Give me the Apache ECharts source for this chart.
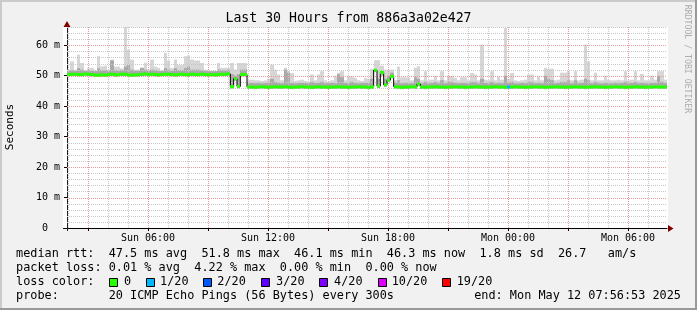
<!DOCTYPE html>
<html><head><meta charset="utf-8">
<script src="https://cdn.jsdelivr.net/npm/echarts@6/dist/echarts.min.js"></script>
<style>html,body{margin:0;padding:0;background:#f1f1f1}#c{width:697px;height:310px}</style>
</head><body><div id="c"></div>
<script>
// ---- data ----
const titleText = 'Last 30 Hours from 886a3a02e427';
const startMinutes = 116 + 53 / 60;   // Sun 01:56:53, minutes since Sun 00:00
const spanMinutes = 1800;             // 30 hours
const stepMinutes = 10;               // one sample per 10 minutes

const median = [
 50.4,50.5,50.5,50.4,50.4,50.6,50.5,50.4,50.2,50.2,
 50.3,50.2,50.4,50.5,50.3,50.4,50.5,50.5,50.3,50.2,
 50.3,50.3,50.5,50.6,50.4,50.5,50.4,50.3,50.4,50.5,
 50.5,50.4,50.3,50.4,50.5,50.4,50.3,50.5,50.4,50.4,
 50.5,50.4,50.3,50.4,50.3,50.4,50.5,50.5,50.6,
 46.4,49.0,46.5,50.4,50.4,
 46.3,46.3,46.2,46.3,46.4,46.3,46.2,46.3,46.4,46.3,
 46.3,46.4,46.3,46.2,46.3,46.3,46.4,46.3,46.3,46.2,
 46.3,46.4,46.3,46.3,46.2,46.3,46.3,46.4,46.3,46.3,
 46.2,46.3,46.3,46.4,46.3,46.3,46.2,46.3,
 51.8,46.6,51.1,47.0,48.5,49.8,46.4,
 46.3,46.2,46.3,46.3,46.4,46.3,47.3,46.3,46.2,46.3,
 46.3,46.4,46.3,46.3,46.2,46.3,46.3,46.4,46.3,46.3,
 46.2,46.3,46.3,46.4,46.3,46.3,46.2,46.3,46.3,46.4,
 46.3,46.3,46.2,46.3,46.3,46.4,46.3,46.3,46.2,46.3,
 46.3,46.4,46.3,46.3,46.2,46.3,46.3,46.4,46.3,46.3,
 46.2,46.3,46.3,46.4,46.3,46.3,46.2,46.3,46.3,46.4,
 46.3,46.3,46.2,46.3,46.3,46.4,46.3,46.3,46.2,46.3,
 46.3,46.4,46.3,46.3,46.2,46.3,46.3,46.4,46.3,46.3,
 46.3
];
const smokeMax = [
 52.0,54.7,52.0,56.9,54.2,51.8,52.5,52.5,51.8,56.4,
 53.1,53.3,52.0,55.3,53.0,53.0,52.4,66.2,58.6,55.3,
 52.0,52.0,52.6,54.3,52.0,55.3,53.0,52.6,51.8,57.5,
 55.0,52.5,55.3,53.5,53.5,56.4,56.6,55.3,55.0,55.0,
 54.2,52.0,51.8,51.5,51.5,54.2,52.6,52.6,52.6,54.2,
 52.0,54.2,54.2,54.2,48.7,48.7,48.5,48.5,48.3,48.5,
 49.0,53.6,52.0,50.4,48.5,52.6,51.5,50.9,48.3,48.5,
 48.7,48.3,48.0,50.4,48.5,50.4,51.5,48.5,48.0,48.5,
 50.0,51.0,51.5,48.5,49.8,49.8,49.3,48.5,48.3,49.3,
 49.0,52.3,55.1,55.1,53.3,52.0,52.0,52.0,48.5,53.0,
 49.5,49.5,49.3,48.5,52.6,53.1,48.5,51.5,48.5,48.7,
 50.0,48.5,51.5,48.5,50.0,50.0,49.3,48.5,49.5,49.5,
 48.5,50.9,50.4,48.5,60.2,48.7,48.5,51.5,48.5,49.8,
 48.7,65.7,49.0,50.9,48.5,48.3,48.5,48.7,50.4,50.4,
 48.5,49.8,48.5,52.6,52.3,52.3,48.5,48.7,51.0,51.0,
 51.5,48.5,51.5,48.5,48.7,60.2,54.7,48.5,51.0,48.5,
 48.5,50.0,48.7,48.5,48.5,48.7,48.5,51.5,48.5,48.7,
 51.5,48.5,50.6,48.5,48.5,50.0,48.7,51.5,51.5,48.7
];
const smokeDense = [
 51.6,51.8,51.6,52.5,52.0,51.6,51.8,51.6,51.5,52.4,
 51.8,51.8,51.6,55.0,51.8,51.6,51.8,53.0,53.5,52.0,
 51.6,51.6,52.6,52.0,51.6,52.0,51.8,51.6,51.5,52.5,
 52.0,51.6,52.5,51.8,51.8,52.5,53.0,52.0,52.0,52.0,
 51.8,51.6,51.5,51.5,51.5,52.0,51.8,51.8,52.0,
 50.5,50.0,50.5,52.0,52.0,
 47.6,47.6,47.5,47.6,47.5,47.6,47.6,49.0,48.0,47.6,
 47.5,52.0,51.0,47.6,47.5,47.6,47.6,47.6,47.5,48.0,
 47.6,47.6,48.0,47.5,47.6,47.6,47.5,50.5,49.5,47.6,
 47.5,48.0,47.6,47.5,47.6,47.6,47.6,49.0,
 52.0,49.0,50.0,49.0,50.0,51.0,47.6,
 48.5,47.5,47.6,47.5,47.5,49.5,49.0,47.5,48.0,47.5,
 47.6,48.0,47.5,48.5,47.5,48.0,48.0,47.6,47.5,47.6,
 47.6,47.5,48.0,48.0,47.5,49.0,47.6,47.5,48.0,47.5,
 47.6,47.5,50.0,47.6,48.0,47.5,47.5,47.6,47.5,48.0,
 48.0,47.5,47.6,47.5,50.0,49.0,48.5,47.5,47.6,48.0,
 48.0,48.5,47.5,48.5,47.5,47.6,49.0,48.5,47.5,48.0,
 47.5,47.5,47.6,47.5,47.5,47.6,47.5,47.6,48.0,47.5,
 47.6,48.0,47.5,47.6,47.5,47.5,47.6,47.6,50.0,48.0,
 47.6
];
const lossIdx = [132];      // sample index with packet loss
const lossLevel = [1];      // index into legend colours (1/20)

const tickHours = [6, 12, 18, 24, 30];
const tickLabels = ['Sun 06:00', 'Sun 12:00', 'Sun 18:00', 'Mon 00:00', 'Mon 06:00'];
const yTicks = [0, 10, 20, 30, 40, 50, 60];
const yMax = 66;

const legendColors = ['#26ff00', '#00b8ff', '#0059ff', '#5e00ff', '#7e00ff', '#dd00ff', '#ff0000'];
const legendNames = ['0', '1/20', '2/20', '3/20', '4/20', '10/20', '19/20'];
const statsLine1 = 'median rtt:  47.5 ms avg  51.8 ms max  46.1 ms min  46.3 ms now  1.8 ms sd  26.7   am/s';
const statsLine2 = 'packet loss: 0.01 % avg  4.22 % max  0.00 % min  0.00 % now';
const statsLine3 = 'loss color:';
const statsLine4 = 'probe:       20 ICMP Echo Pings (56 Bytes) every 300s';
const endText = 'end: Mon May 12 07:56:53 2025';

// ---- build ----
const MONO = 'DejaVu Sans Mono';
const LEGFONT = '11.85px "' + MONO + '"';
const lossMap = {};
lossIdx.forEach((k, i) => lossMap[k] = lossLevel[i]);
const smokeLight = median.map((m, i) => [i * stepMinutes, m - 0.6, smokeMax[i]]);
const smokeDark = median.map((m, i) => [i * stepMinutes, m - 0.6, smokeDense[i]]);
const medianSeg = median.map((m, i) => [i * stepMinutes, m, lossMap[i] || 0]);
const medianLine = median.map((m, i) => [i * stepMinutes, m]);
medianLine.push([spanMinutes, median[median.length - 1]]);

const hourOffsets = [];
for (let h = Math.ceil(startMinutes / 60); h * 60 - startMinutes <= spanMinutes; h++) {
  hourOffsets.push([h * 60 - startMinutes, 0, h % 3 === 0 ? 1 : 0]);
}
const majorTicks = hourOffsets.filter(d => d[2] === 1).map(d => d[0]);
const labelPos = tickHours.map(h => h * 60 - startMinutes);
const hLines = [];
for (let v = 2; v <= yMax; v += 2) hLines.push([0, v, v % 10 === 0 ? 1 : 0]);

function bandItem(color) {
  return function (params, api) {
    const t = api.value(0), lo = api.value(1), hi = api.value(2);
    const a = api.coord([t, hi]), b = api.coord([t + stepMinutes, lo]);
    const x0 = Math.round(a[0]), x1 = Math.round(b[0]);
    return { type: 'rect', shape: { x: x0, y: a[1], width: x1 - x0, height: b[1] - a[1] }, style: { fill: color } };
  };
}

const chart = echarts.init(document.getElementById('c'), null, { renderer: 'canvas' });
const gridL = 67, gridT = 27, gridW = 600, gridH = 201;
const graphics = [
  { type: 'rect', z: -10, shape: { x: 63, y: gridT, width: gridW + 5, height: gridH }, style: { fill: '#ffffff' } },
  { type: 'rect', shape: { x: 0, y: 0, width: 697, height: 2 }, style: { fill: '#cbcbcb' } },
  { type: 'rect', shape: { x: 0, y: 0, width: 2, height: 310 }, style: { fill: '#cbcbcb' } },
  { type: 'rect', shape: { x: 0, y: 308, width: 697, height: 2 }, style: { fill: '#999999' } },
  { type: 'rect', shape: { x: 695, y: 0, width: 2, height: 310 }, style: { fill: '#999999' } },
  { type: 'line', z: 10, shape: { x1: 63, y1: 228.5, x2: 67, y2: 228.5 }, style: { stroke: '#000', lineWidth: 1 } },
  { type: 'line', z: 10, shape: { x1: 67.5, y1: 228, x2: 67.5, y2: 231 }, style: { stroke: '#202020', lineWidth: 1 } },
  { type: 'text', x: 348.5, y: 19, style: { text: titleText, font: '13.2px "' + MONO + '"', fill: '#000', align: 'center', verticalAlign: 'middle' } },
  { type: 'text', x: 10, y: 127, rotation: Math.PI / 2, style: { text: 'Seconds', font: '11px "' + MONO + '"', fill: '#000', align: 'center', verticalAlign: 'middle' } },
  { type: 'text', x: 687, y: 59, rotation: -Math.PI / 2, style: { text: 'RRDTOOL / TOBI OETIKER', font: '8.2px "' + MONO + '"', fill: '#acacac', align: 'center', verticalAlign: 'middle' } },
  { type: 'polygon', z: 10, shape: { points: [[668, 225], [673.5, 228.5], [668, 232]] }, style: { fill: '#800000' } },
  { type: 'polygon', z: 10, shape: { points: [[63.5, 27], [67, 21], [70.5, 27]] }, style: { fill: '#800000' } },
  { type: 'text', x: 16, y: 254.3, style: { text: statsLine1, font: LEGFONT, fill: '#000', verticalAlign: 'middle' } },
  { type: 'text', x: 16, y: 268, style: { text: statsLine2, font: LEGFONT, fill: '#000', verticalAlign: 'middle' } },
  { type: 'text', x: 16, y: 282.3, style: { text: statsLine3, font: LEGFONT, fill: '#000', verticalAlign: 'middle' } },
  { type: 'text', x: 16, y: 296, style: { text: statsLine4, font: LEGFONT, fill: '#000', verticalAlign: 'middle' } },
  { type: 'text', x: 681, y: 296, style: { text: endText, font: LEGFONT, fill: '#000', align: 'right', verticalAlign: 'middle' } }
];
const boxX = [108.7, 145.7, 203.3, 261, 319.3, 377.7, 441.7];
const nameX = [124, 160, 217.3, 276, 334, 391.7, 456.7];
legendColors.forEach((c, i) => {
  graphics.push({ type: 'rect', shape: { x: Math.round(boxX[i]) + 0.5, y: 278.5, width: 8, height: 8 }, style: { fill: c, stroke: '#000', lineWidth: 1 } });
  graphics.push({ type: 'text', x: nameX[i], y: 282.3, style: { text: legendNames[i], font: LEGFONT, fill: '#000', verticalAlign: 'middle' } });
});

chart.setOption({
  animation: false,
  backgroundColor: '#f1f1f1',
  grid: { left: gridL, top: gridT, width: gridW, height: gridH, outerBoundsMode: 'none', containLabel: false },
  xAxis: {
    type: 'value', min: 0, max: spanMinutes,
    axisLine: { show: true, lineStyle: { color: '#000', width: 1 } },
    axisTick: { show: true, length: 3, customValues: majorTicks, lineStyle: { color: '#000' } },
    axisLabel: {
      customValues: labelPos, margin: 5, fontFamily: MONO, fontSize: 10, color: '#000',
      formatter: v => { for (let i = 0; i < labelPos.length; i++) if (Math.abs(labelPos[i] - v) < 0.01) return tickLabels[i]; return ''; }
    },
    splitLine: { show: false }
  },
  yAxis: {
    type: 'value', min: 0, max: yMax,
    axisLine: { show: true, lineStyle: { color: '#202020', width: 1 } },
    axisTick: { show: true, length: 3, customValues: yTicks, lineStyle: { color: '#000' } },
    axisLabel: {
      customValues: yTicks, margin: 7, fontFamily: MONO, fontSize: 10, color: '#000',
      formatter: v => v === 0 ? '0  ' : v + ' m'
    },
    splitLine: { show: false }
  },
  graphic: graphics,
  series: [
    {
      type: 'custom', name: 'smoke', z: 1, silent: true, clip: true,
      data: smokeLight, encode: { x: 0, y: [1, 2] }, renderItem: bandItem('#d6d6d6')
    },
    {
      type: 'custom', name: 'smokeDense', z: 1, silent: true, clip: true,
      data: smokeDark, encode: { x: 0, y: [1, 2] }, renderItem: bandItem('#a9a9a9')
    },
    {
      type: 'custom', name: 'vgrid', z: 2, silent: true,
      data: hourOffsets, encode: { x: 0, y: 1 },
      renderItem: (params, api) => {
        const p = api.coord([api.value(0), 0]);
        const cs = params.coordSys;
        const x = Math.round(p[0]) + 0.5;
        return { type: 'line', shape: { x1: x, y1: cs.y, x2: x, y2: cs.y + cs.height },
          style: { stroke: api.value(2) ? '#eb9a9a' : '#c8c8c8', lineWidth: 1, lineDash: [1, 1] } };
      }
    },
    {
      type: 'custom', name: 'hgrid', z: 2, silent: true,
      data: hLines, encode: { x: 0, y: 1 },
      renderItem: (params, api) => {
        const p = api.coord([0, api.value(1)]);
        const cs = params.coordSys;
        const y = Math.round(p[1]) + 0.5;
        return { type: 'line', shape: { x1: cs.x, y1: y, x2: cs.x + cs.width, y2: y },
          style: { stroke: api.value(2) ? '#eb9a9a' : '#c8c8c8', lineWidth: 1, lineDash: [1, 1] } };
      }
    },
    {
      type: 'line', name: 'medianStep', z: 3, step: 'end', symbol: 'none', silent: true,
      data: medianLine, lineStyle: { color: '#000', width: 1 }
    },
    {
      type: 'custom', name: 'median', z: 4, silent: true, clip: true,
      data: medianSeg, encode: { x: 0, y: 1 },
      renderItem: (params, api) => {
        const t = api.value(0), v = api.value(1);
        const a = api.coord([t, v]), b = api.coord([t + stepMinutes, v]);
        const x0 = Math.round(a[0]), x1 = Math.round(b[0]);
        return { type: 'rect', shape: { x: x0, y: a[1] - 1.5, width: x1 - x0, height: 3 }, style: { fill: legendColors[api.value(2)] } };
      }
    }
  ]
});
</script>
</body></html>
